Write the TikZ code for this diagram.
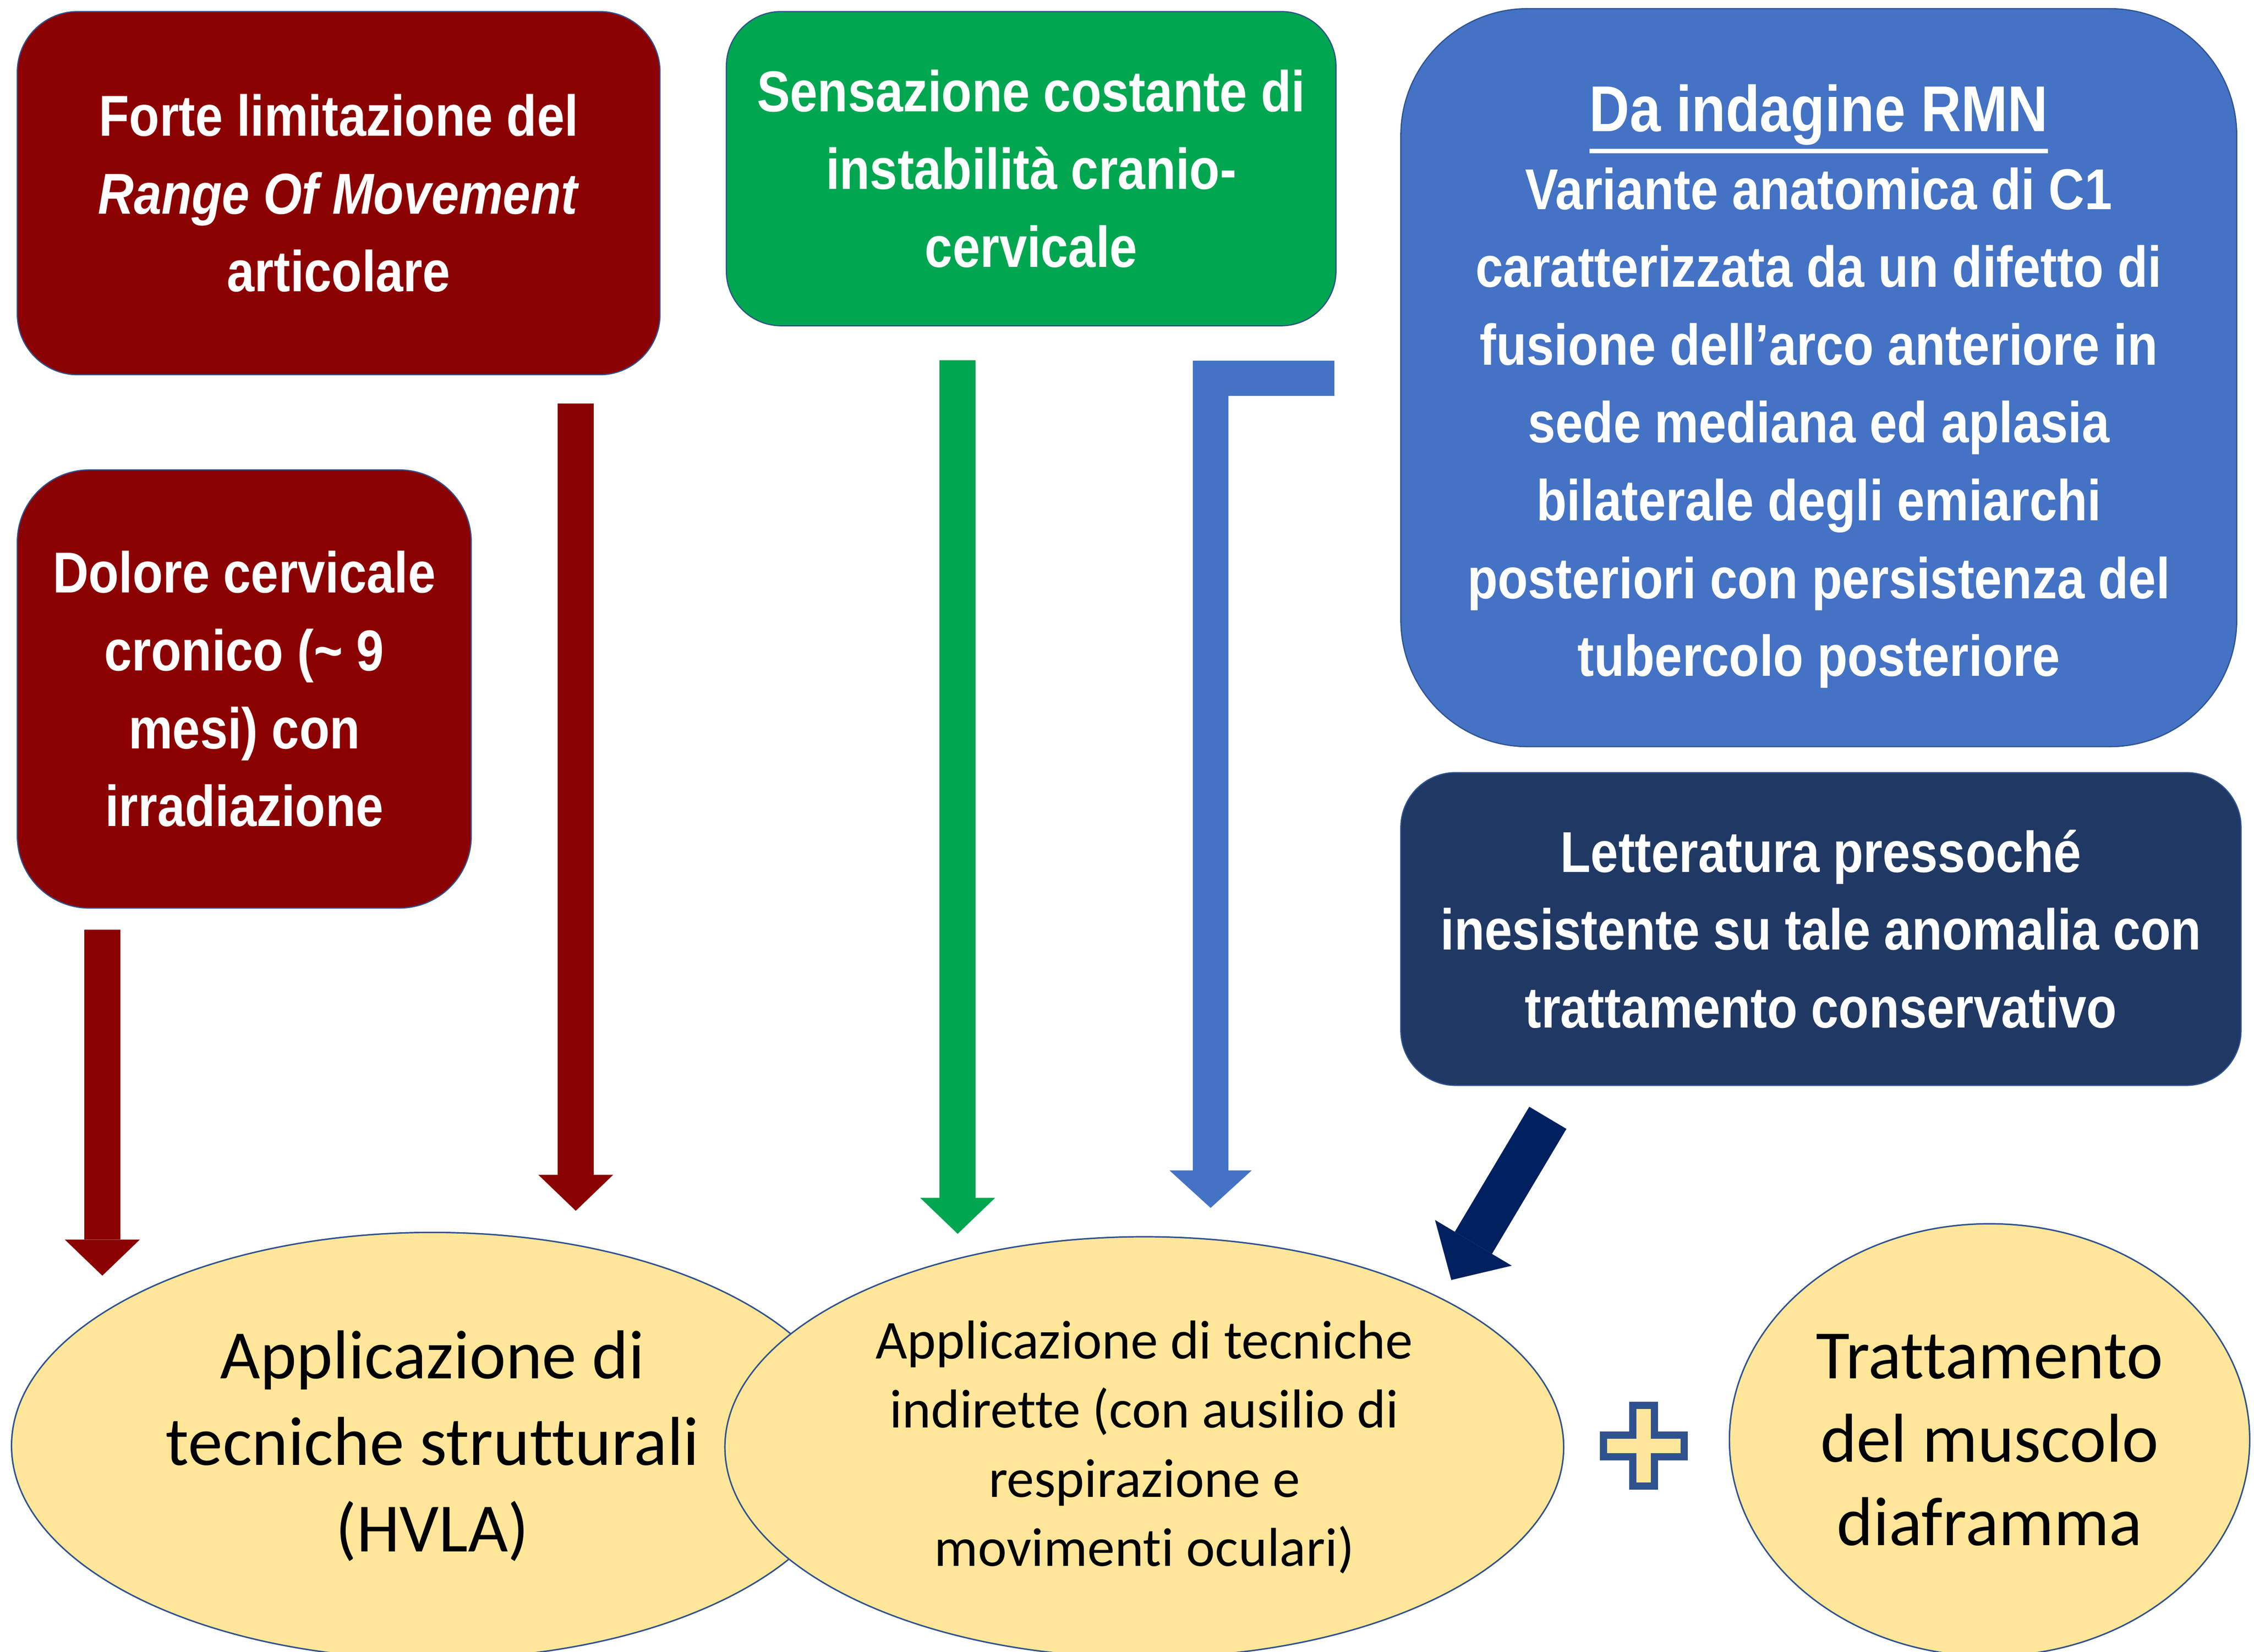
\documentclass[tikz,border=0pt]{standalone}
\usepackage{fontspec}
\setmainfont[Ligatures=NoCommon]{Carlito}
\newfontfamily\condfont[FakeStretch=0.86]{Liberation Sans}
\usetikzlibrary{shapes.geometric,arrows.meta}
\definecolor{darkred}{HTML}{8B0000}
\definecolor{grass}{HTML}{00A650}
\definecolor{midblue}{HTML}{4472C4}
\definecolor{navybox}{HTML}{203864}
\definecolor{navyarrow}{HTML}{002060}
\definecolor{edgeblue}{HTML}{2F528F}
\definecolor{ovalfill}{HTML}{FFE699}
\newcommand\thickul[1]{\leavevmode\vtop{\hbox{#1}\kern2.5pt\hrule height 3pt}}

\begin{document}
\begin{tikzpicture}
[x=1pt,y=-1pt,
 every node/.style={inner sep=0pt,outer sep=0pt,align=center},
 box/.style={rectangle,draw=edgeblue,line width=0.8pt,text=white,
   font=\condfont\bfseries\fontsize{40}{54}\selectfont},
 boxtext/.style={text=white,font=\condfont\bfseries\fontsize{40}{54}\selectfont},
 oval/.style={ellipse,draw=edgeblue,fill=ovalfill,line width=1pt,text=black},
 blk/.style={line width=#1,line cap=butt,line join=miter},
 tipA/.style={-{Triangle[width=52pt,length=25pt,line width=0pt]}},
 plussign/.style={draw=edgeblue,fill=ovalfill,line width=5pt,line join=miter}]
\useasboundingbox (0,0) rectangle (1564,1146);
% riquadri
\node[box,fill=darkred,rounded corners=42pt,minimum width=446pt,minimum height=252pt] (rom) at (235,134)
  {Forte limitazione del\\\textit{Range Of Movement}\\articolare};
\node[box,fill=darkred,rounded corners=50pt,minimum width=315pt,minimum height=304pt] (dolore) at (169.5,478)
  {Dolore cervicale\\cronico (\textasciitilde{} 9\\mesi) con\\irradiazione};
\node[box,fill=grass,rounded corners=38pt,minimum width=423pt,minimum height=218pt] (instab) at (715.5,117)
  {Sensazione costante di\\instabilità cranio-\\cervicale};
\node[box,fill=midblue,rounded corners=88pt,minimum width=580pt,minimum height=512pt] (rmn) at (1262,262) {};
\node[boxtext] (rmntxt) at ([yshift=-6pt]rmn.center)
  {{\fontsize{45}{54}\selectfont\thickul{Da indagine RMN}}\\Variante anatomica di C1\\caratterizzata da un difetto di\\fusione dell’arco anteriore in\\sede mediana ed aplasia\\bilaterale degli emiarchi\\posteriori con persistenza del\\tubercolo posteriore};
\node[box,fill=navybox,rounded corners=38pt,minimum width=583pt,minimum height=217pt] (lett) at (1263.5,644.5)
  {Letteratura pressoché\\inesistente su tale anomalia con\\trattamento conservativo};
% ellissi
\node[oval,minimum width=584pt,minimum height=296pt,font=\fontsize{48}{60}\selectfont] (hvla) at (300,1003)
  {Applicazione di\\tecniche strutturali\\(HVLA)};
\node[oval,minimum width=582pt,minimum height=292pt,font=\fontsize{38}{48}\selectfont] (indir) at (794,1004)
  {Applicazione di tecniche\\indirette (con ausilio di\\respirazione e\\movimenti oculari)};
\node[oval,minimum width=361pt,minimum height=300pt,font=\fontsize{48}{58}\selectfont] (diaf) at (1380.5,999)
  {Trattamento\\del muscolo\\diaframma};
% frecce
\coordinate (d0) at (71,645);    \coordinate (d1) at (71,885);
\coordinate (r0) at (399.5,280); \coordinate (r1) at (399.5,840);
\coordinate (s0) at (664.5,250); \coordinate (s1) at (664.5,856);
\coordinate (m0) at (926,262.5); \coordinate (m1) at (840,838);
\coordinate (l0) at (1074,775.5); \coordinate (l1) at (1007,888);
\draw[blk=25pt,tipA,darkred] (d0) -- (d1);
\draw[blk=25pt,tipA,darkred] (r0) -- (r1);
\draw[blk=25pt,tipA,grass] (s0) -- (s1);
\draw[blk=24.5pt,midblue,-{Triangle[width=57pt,length=26pt,line width=0pt]}] (m0) -| (m1);
\draw[blk=30pt,navyarrow,-{Triangle[width=62pt,length=30pt,line width=0pt]}] (l0) -- (l1);
% segno +
\coordinate (plus) at (1140.5,1003);
\draw[plussign] ([shift={(-7.5,-28)}]plus) -- ++(15,0) -- ++(0,20.5) -- ++(20.5,0) -- ++(0,15)
  -- ++(-20.5,0) -- ++(0,20.5) -- ++(-15,0) -- ++(0,-20.5) -- ++(-20.5,0) -- ++(0,-15) -- ++(20.5,0) -- cycle;
\end{tikzpicture}
\end{document}
